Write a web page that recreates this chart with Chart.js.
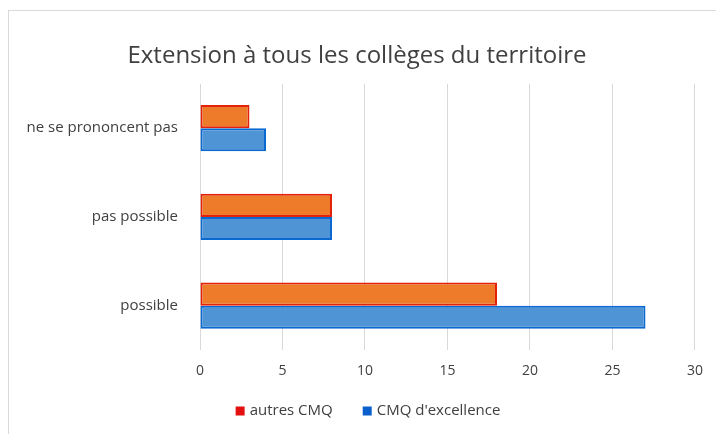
<!DOCTYPE html>
<html>
<head>
<meta charset="utf-8">
<script src="https://cdn.jsdelivr.net/npm/chart.js@4/dist/chart.umd.min.js"></script>
<style>
html,body{margin:0;padding:0;background:#fff;}
#frame{position:absolute;left:8px;top:10px;width:730px;height:450px;border:1px solid #d9d9d9;box-sizing:border-box;}
#wrap{position:absolute;left:0;top:0;width:716px;height:434px;}
</style>
</head>
<body>
<div id="frame"></div>
<div id="wrap"><canvas id="c" width="716" height="434"></canvas></div>
<script>
const categories = ["ne se prononcent pas", "pas possible", "possible"];
const autresCMQ = [3, 8, 18];
const cmqExcellence = [4, 8, 27];
const xTicks = [0, 5, 10, 15, 20, 25, 30];

const customLegend = {
  id: 'customLegend',
  afterDraw(chart) {
    const c = chart.ctx;
    c.save();
    c.font = '15px "Open Sans"';
    const box = 9, gapText = 5, gapItem = 30;
    const items = chart.data.datasets.map(d => ({text: d.label, color: d.legendColor, w: box + gapText + c.measureText(d.label).width}));
    const total = items.reduce((s, it) => s + it.w, 0) + gapItem * (items.length - 1);
    let x = 368 - total / 2;
    const y = 411;
    c.textBaseline = 'middle';
    c.textAlign = 'left';
    items.forEach(it => {
      c.fillStyle = it.color;
      c.fillRect(x, y - box / 2, box, box);
      c.fillStyle = '#404040';
      c.fillText(it.text, x + box + gapText, y);
      x += it.w + gapItem;
    });
    c.restore();
  }
};

const ctx = document.getElementById('c').getContext('2d');
new Chart(ctx, {
  type: 'bar',
  data: {
    labels: categories,
    datasets: [
      {label: "autres CMQ", data: autresCMQ, backgroundColor: '#ee7b2a', borderColor: '#e3220c', borderWidth: 2, borderSkipped: false, legendColor: '#e31010'},
      {label: "CMQ d'excellence", data: cmqExcellence, backgroundColor: '#4f95d6', borderColor: '#0a68d0', borderWidth: 2, borderSkipped: false, legendColor: '#0a5fcc'}
    ]
  },
  options: {
    indexAxis: 'y',
    responsive: false,
    animation: false,
    layout: {padding: {top: 42, right: 20, left: 18, bottom: 54}},
    datasets: {bar: {categoryPercentage: 0.52, barPercentage: 1.0}},
    scales: {
      x: {
        min: 0, max: 30,
        afterBuildTicks: s => { s.ticks = xTicks.map(v => ({value: v})); },
        grid: {color: '#d9d9d9', drawTicks: false, lineWidth: 1},
        border: {display: false},
        ticks: {color: '#404040', font: {family: 'Open Sans', size: 14}, padding: 13},
        afterFit: s => { s.height = 30; }
      },
      y: {
        grid: {display: false},
        border: {display: false},
        ticks: {color: '#404040', font: {family: 'Open Sans', size: 15}, padding: 14},
        afterFit: s => { s.width = 182; }
      }
    },
    plugins: {
      title: {display: true, text: 'Extension à tous les collèges du territoire', color: '#404040', font: {family: 'Open Sans', size: 24, weight: 'normal'}, padding: {top: 0, bottom: 13}},
      legend: {display: false},
      tooltip: {enabled: false}
    }
  },
  plugins: [customLegend]
});
</script>
</body>
</html>
